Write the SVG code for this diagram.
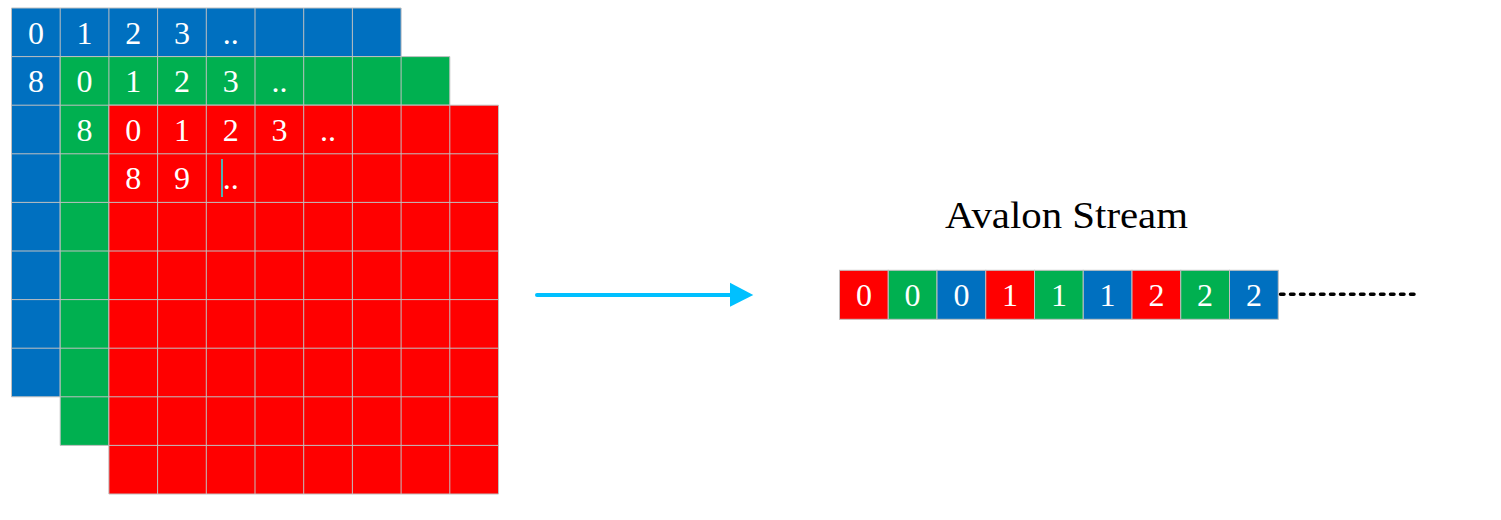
<svg xmlns="http://www.w3.org/2000/svg" width="1501" height="520" viewBox="0 0 1501 520">
<style>
.grid{stroke:#C0C0C0;stroke-width:1;fill:none}
.num{font-family:"Liberation Serif","Times New Roman",serif;font-size:32px;fill:#FFFFFF;text-anchor:middle}
.cell{stroke:#C0C0C0;stroke-width:1}
.b{fill:#0070C0}.g{fill:#00B050}.r{fill:#FF0000}
.title{font-family:"Liberation Serif","Times New Roman",serif;font-size:38px;fill:#000000}
</style>
<rect width="1501" height="520" fill="#FFFFFF"/>
<g id="blue-grid">
<rect class="b" x="11.5" y="8" width="389.6" height="388.8"/>
<path class="grid" d="M11.5 8V396.8M60.2 8V396.8M108.9 8V396.8M157.6 8V396.8M206.3 8V396.8M255 8V396.8M303.7 8V396.8M352.4 8V396.8M401.1 8V396.8M11.5 8H401.1M11.5 56.6H401.1M11.5 105.2H401.1M11.5 153.8H401.1M11.5 202.4H401.1M11.5 251H401.1M11.5 299.6H401.1M11.5 348.2H401.1M11.5 396.8H401.1"/>
<text class="num" x="35.9" y="43.5">0</text>
<text class="num" x="84.6" y="43.5">1</text>
<text class="num" x="133.3" y="43.5">2</text>
<text class="num" x="182" y="43.5">3</text>
<text class="num" x="230.7" y="43.5">..</text>
<text class="num" x="35.9" y="92.1">8</text>
</g>
<g id="green-grid">
<rect class="g" x="60.2" y="56.6" width="389.6" height="388.8"/>
<path class="grid" d="M60.2 56.6V445.4M108.9 56.6V445.4M157.6 56.6V445.4M206.3 56.6V445.4M255 56.6V445.4M303.7 56.6V445.4M352.4 56.6V445.4M401.1 56.6V445.4M449.8 56.6V445.4M60.2 56.6H449.8M60.2 105.2H449.8M60.2 153.8H449.8M60.2 202.4H449.8M60.2 251H449.8M60.2 299.6H449.8M60.2 348.2H449.8M60.2 396.8H449.8M60.2 445.4H449.8"/>
<text class="num" x="84.6" y="92.1">0</text>
<text class="num" x="133.3" y="92.1">1</text>
<text class="num" x="182" y="92.1">2</text>
<text class="num" x="230.7" y="92.1">3</text>
<text class="num" x="279.4" y="92.1">..</text>
<text class="num" x="84.6" y="140.7">8</text>
</g>
<g id="red-grid">
<rect class="r" x="108.9" y="105.2" width="389.6" height="388.8"/>
<path class="grid" d="M108.9 105.2V494M157.6 105.2V494M206.3 105.2V494M255 105.2V494M303.7 105.2V494M352.4 105.2V494M401.1 105.2V494M449.8 105.2V494M498.5 105.2V494M108.9 105.2H498.5M108.9 153.8H498.5M108.9 202.4H498.5M108.9 251H498.5M108.9 299.6H498.5M108.9 348.2H498.5M108.9 396.8H498.5M108.9 445.4H498.5M108.9 494H498.5"/>
<text class="num" x="133.3" y="140.7">0</text>
<text class="num" x="182" y="140.7">1</text>
<text class="num" x="230.7" y="140.7">2</text>
<text class="num" x="279.4" y="140.7">3</text>
<text class="num" x="328.1" y="140.7">..</text>
<text class="num" x="133.3" y="189.3">8</text>
<text class="num" x="182" y="189.3">9</text>
<text class="num" x="230.7" y="189.3">..</text>
<line x1="222" y1="159" x2="222" y2="197" stroke="#00FFFF" stroke-width="1.4"/>
</g>
<g id="title">
<text class="title" x="945" y="228" textLength="243" lengthAdjust="spacingAndGlyphs">Avalon Stream</text>
</g>
<g id="stream">
<rect class="cell r" x="839.5" y="270.3" width="48.75" height="49"/>
<rect class="cell g" x="888.25" y="270.3" width="48.75" height="49"/>
<rect class="cell b" x="937" y="270.3" width="48.75" height="49"/>
<rect class="cell r" x="985.75" y="270.3" width="48.75" height="49"/>
<rect class="cell g" x="1034.5" y="270.3" width="48.75" height="49"/>
<rect class="cell b" x="1083.25" y="270.3" width="48.75" height="49"/>
<rect class="cell r" x="1132" y="270.3" width="48.75" height="49"/>
<rect class="cell g" x="1180.75" y="270.3" width="48.75" height="49"/>
<rect class="cell b" x="1229.5" y="270.3" width="48.75" height="49"/>
<text class="num" x="863.9" y="306">0</text>
<text class="num" x="912.6" y="306">0</text>
<text class="num" x="961.4" y="306">0</text>
<text class="num" x="1010.1" y="306">1</text>
<text class="num" x="1058.9" y="306">1</text>
<text class="num" x="1107.6" y="306">1</text>
<text class="num" x="1156.4" y="306">2</text>
<text class="num" x="1205.1" y="306">2</text>
<text class="num" x="1253.9" y="306">2</text>
</g>
<g id="connectors">
<line x1="537" y1="295" x2="732" y2="295" stroke="#00C0FF" stroke-width="4" stroke-linecap="round"/>
<polygon points="730,282.7 753.3,295 730,306.7" fill="#00C0FF"/>
<line x1="1280.5" y1="294.3" x2="1416" y2="294.3" stroke="#000000" stroke-width="3.5" stroke-dasharray="3.5 6.5" stroke-linecap="round"/>
</g>
</svg>
